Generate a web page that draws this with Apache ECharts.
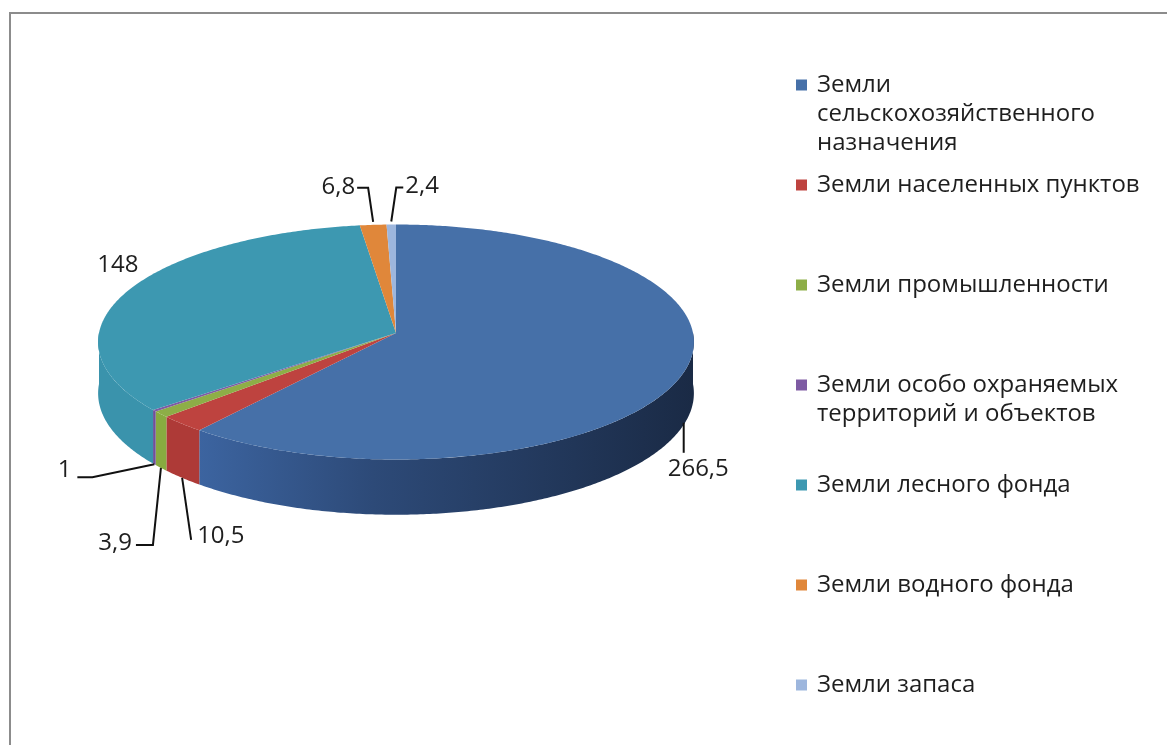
<!DOCTYPE html>
<html><head><meta charset="utf-8">
<script src="https://cdn.jsdelivr.net/npm/echarts@6/dist/echarts.min.js"></script>
<style>html,body{margin:0;padding:0;background:#fff}#c{width:1167px;height:745px}</style>
</head><body><div id="c"></div>
<script>
// ---- data ----
const categories = [
  'Земли сельскохозяйственного назначения',
  'Земли населенных пунктов',
  'Земли промышленности',
  'Земли особо охраняемых территорий и объектов',
  'Земли лесного фонда',
  'Земли водного фонда',
  'Земли запаса'
];
const legendLines = [
  'Земли\nсельскохозяйственного\nназначения',
  'Земли населенных пунктов',
  'Земли промышленности',
  'Земли особо охраняемых\nтерриторий и объектов',
  'Земли лесного фонда',
  'Земли водного фонда',
  'Земли запаса'
];
const values = [266.5, 10.5, 3.9, 1, 148, 6.8, 2.4];

// ---- styles ----
const topColors  = ['#4670A8', '#BE433F', '#8DAE47', '#7E5BA3', '#3D98B1', '#E0873A', '#9DB6DD'];
const sideColors = ['#2B4772', '#AE3A37', '#88AB40', '#71509A', '#3A93AC', '#D67D33', '#8FA9D0'];
const FONT = '"Open Sans", "Noto Sans", sans-serif';
const FS = 24;
// label placement relative to the anchor on the slice rim
const labelAnchor = ['bottom','bottom','bottom','bottom','top','top','top'];
const labelLines = [
  [[0,-2],[0,28]],
  [[0,0],[9,62]],
  [[0,0],[-8,77],[-25,77]],
  [[0,0],[-62,13],[-77,13]],
  null,
  [[0,-3],[-5,-37],[-16,-37]],
  [[0,-3],[5,-37],[12,-37]]
];
const labelText = [
  [-16,44,'left'], [15,58,'left'], [-29,75,'right'], [-83,6,'right'],
  [-10,-26,'center'], [-18,-38,'right'], [14,-38,'left']
];

// geometry of the tilted disc
const CX = 396, CY = 342, RX = 297, RY = 117.5, DEPTH = 51, PERSP = -0.077;
function project(theta, down) {
  const u = Math.sin(theta), v = -Math.cos(theta);
  const w = 1 + PERSP * v;
  return [CX + RX * u / w, CY + RY * (v + PERSP) / w + down / w];
}
function arc(a, b, down) {
  const pts = [];
  const n = Math.max(2, Math.ceil((b - a) / 0.01));
  for (let k = 0; k <= n; k++) pts.push(project(a + (b - a) * k / n, down));
  return pts;
}
const total = values.reduce((s, v) => s + v, 0);
const starts = [];
values.reduce((acc, v) => { starts.push(acc); return acc + v; }, 0);

function renderItem(params, api) {
  const i = params.dataIndex;
  const val = api.value(0);
  const a = starts[i] / total * Math.PI * 2;
  const b = (starts[i] + val) / total * Math.PI * 2;
  const children = [];
  // visible side wall
  const sa = Math.max(a, Math.PI / 2), sb = Math.min(b, Math.PI * 1.5);
  if (sb > sa) {
    const pts = arc(sa, sb, 0).concat(arc(sa, sb, DEPTH).reverse());
    let fill = sideColors[i];
    if (i === 0) {
      fill = new echarts.graphic.LinearGradient(0, 0, 1, 0, [
        { offset: 0, color: '#3C64A0' },
        { offset: 0.35, color: '#2D4A78' },
        { offset: 1, color: '#1A2A45' }
      ]);
    }
    children.push({ type: 'polygon', shape: { points: pts }, style: { fill: fill } });
  }
  // top face
  const apex = [CX, CY + RY * PERSP];
  children.push({ type: 'polygon', shape: { points: [apex].concat(arc(a, b, 0)) }, style: { fill: topColors[i] } });
  // label
  const mid = (a + b) / 2;
  const anc = project(mid, labelAnchor[i] === 'bottom' ? DEPTH : 0);
  if (labelLines[i]) {
    children.push({
      type: 'polyline',
      shape: { points: labelLines[i].map(p => [anc[0] + p[0], anc[1] + p[1]]) },
      style: { stroke: '#111', lineWidth: 2, fill: null }
    });
  }
  const lt = labelText[i];
  children.push({
    type: 'text', x: anc[0] + lt[0], y: anc[1] + lt[1],
    style: {
      text: String(val).replace('.', ','), fill: '#1e1e1e', fontSize: FS, fontFamily: FONT,
      align: lt[2], verticalAlign: 'middle'
    }
  });
  return { type: 'group', children: children };
}

// legend as graphic elements built from the category list
const legendGraphics = [];
legendLines.forEach((name, i) => {
  const cy = 85 + 100 * i;
  legendGraphics.push({ type: 'rect', shape: { x: 796, y: cy - 5.5, width: 11, height: 11 }, style: { fill: topColors[i] } });
  legendGraphics.push({
    type: 'text', x: 817, y: cy - 14.5,
    style: { text: name, fill: '#1e1e1e', fontSize: FS, fontFamily: FONT, lineHeight: 29, verticalAlign: 'top', align: 'left' }
  });
});
legendGraphics.push({ type: 'rect', shape: { x: 10, y: 13, width: 1300, height: 900 }, style: { fill: 'none', stroke: '#8c8c8c', lineWidth: 2 } });

const chart = echarts.init(document.getElementById('c'));
chart.setOption({
  backgroundColor: '#fff',
  animation: false,
  graphic: legendGraphics,
  series: [{
    type: 'custom',
    coordinateSystem: 'none',
    renderItem: renderItem,
    data: values.map((v, i) => ({ name: categories[i], value: [v] }))
  }]
});
</script></body></html>
